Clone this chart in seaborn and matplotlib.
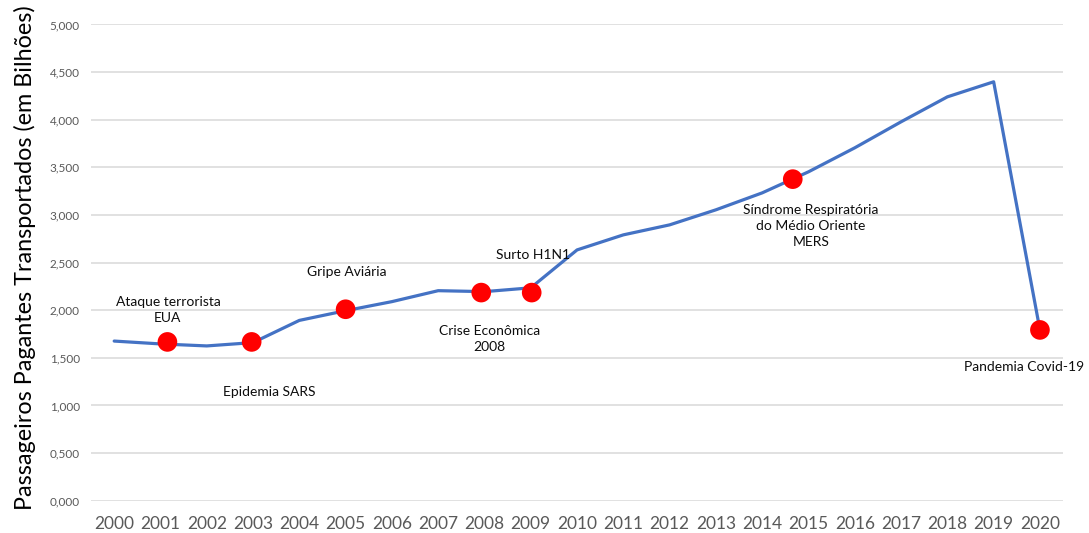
import matplotlib
matplotlib.use("Agg")
import matplotlib.pyplot as plt
import seaborn as sns
import pandas as pd
from matplotlib.ticker import FuncFormatter

# passageiros pagantes transportados (bilhões)
anos = list(range(2000, 2021))
passageiros = [1.676, 1.646, 1.625, 1.660, 1.893, 1.995, 2.090, 2.205, 2.195, 2.235,
               2.633, 2.791, 2.896, 3.054, 3.232, 3.453, 3.705, 3.978, 4.240, 4.398, 1.793]

# eventos marcados (bolinhas vermelhas)
eventos_x = [2001.15, 2002.97, 2005.0, 2007.93, 2009.02, 2014.66, 2020.0]
eventos_y = [1.667, 1.667, 2.010, 2.185, 2.185, 3.376, 1.793]

# textos dos eventos e onde ficam
rotulos = ["Ataque terrorista\nEUA", "Epidemia SARS", "Gripe Aviária", "Crise Econômica\n2008",
           "Surto H1N1", "Síndrome Respiratória\ndo Médio Oriente\nMERS", "Pandemia Covid-19"]
rotulos_pos = [(2001.16, 2.000), (2003.35, 1.145), (2005.03, 2.402), (2008.11, 1.693),
               (2009.05, 2.581), (2015.05, 2.886), (2019.65, 1.408)]

df = pd.DataFrame({"ano": anos, "passageiros": passageiros})
ev = pd.DataFrame({"x": eventos_x, "y": eventos_y})

sns.set_style("white")
plt.rcParams["font.family"] = ["Lato", "DejaVu Sans"]

fig = plt.figure(figsize=(10.89, 5.33), dpi=100)
ax = fig.add_axes([0.0836, 0.0606, 0.8926, 0.8935])

sns.lineplot(data=df, x="ano", y="passageiros", color="#4472C4", linewidth=2.3, ax=ax, zorder=2)
sns.scatterplot(data=ev, x="x", y="y", color="#FF0000", s=200, edgecolor="none", ax=ax, zorder=3)

for txt, (x, y) in zip(rotulos, rotulos_pos):
    ax.text(x, y, txt, ha="center", va="center", fontsize=10, color="#0d0d0d",
            linespacing=1.4, clip_on=False, zorder=4)

ax.set_xlim(1999.5, 2020.5)
ax.set_ylim(0, 5.0)
ax.set_xticks(anos)
ax.set_yticks([i * 0.5 for i in range(11)])
ax.yaxis.set_major_formatter(FuncFormatter(lambda v, p: f"{v:.3f}".replace(".", ",")))
ax.grid(axis="y", color="#D9D9D9", linewidth=1.1)
ax.set_axisbelow(True)
for s in ax.spines.values():
    s.set_visible(False)

ax.tick_params(axis="x", length=0, pad=11, labelsize=12.5, labelcolor="#595959")
ax.tick_params(axis="y", length=0, pad=8, labelsize=8.5, labelcolor="#595959")

ax.set_xlabel("")
ax.set_ylabel("Passageiros Pagantes Transportados (em Bilhões)", fontsize=16.8, color="#000000")
ax.yaxis.set_label_coords(-0.057, 0.51)

fig.savefig("out.png", dpi=100)
